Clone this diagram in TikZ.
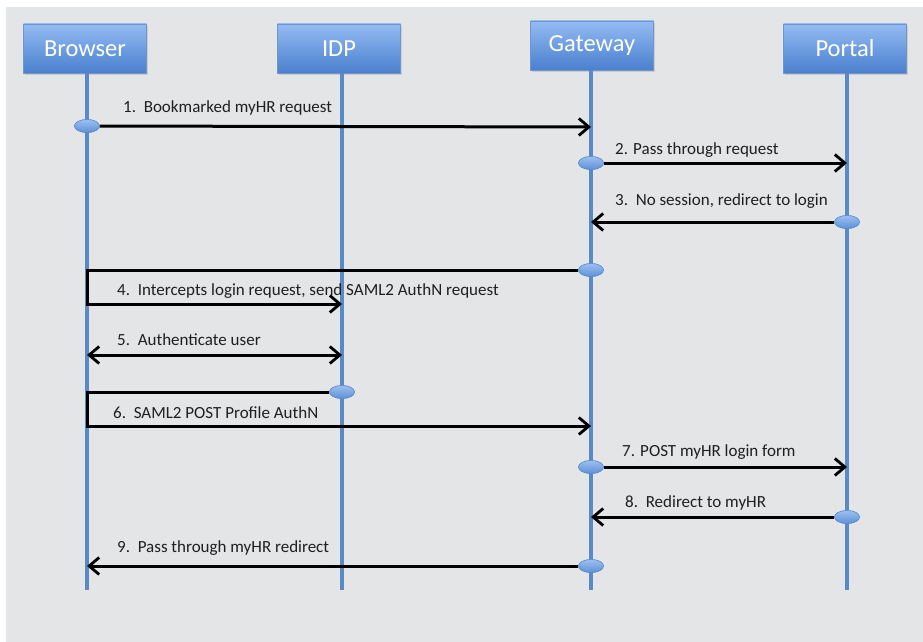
\documentclass[tikz,border=0pt]{standalone}
\usepackage{fontspec}
\setmainfont{Carlito}
\usetikzlibrary{arrows.meta,shapes.geometric,shadows}

\definecolor{panel}{HTML}{E4E5E7}
\definecolor{lifeblue}{HTML}{5A89C8}
\definecolor{boxtop}{HTML}{93BBF2}
\definecolor{boxbot}{HTML}{4A80CE}
\definecolor{boxedge}{HTML}{6F97CC}
\definecolor{dottop}{HTML}{9CC0F0}
\definecolor{dotbot}{HTML}{5E90D8}

\tikzset{
  actor/.style={rectangle, minimum width=123pt, minimum height=49pt, inner sep=0pt,
    top color=boxtop, bottom color=boxbot, draw=boxedge, line width=0.6pt,
    text=white, font=\fontsize{24.5}{28}\selectfont,
    drop shadow={opacity=0.25, shadow xshift=1.5pt, shadow yshift=-2pt}},
  lifeline/.style={draw=lifeblue, line width=3.2pt},
  dot/.style={ellipse, minimum width=25pt, minimum height=13pt, inner sep=0pt,
    top color=dottop, bottom color=dotbot, draw=lifeblue, line width=0.5pt},
  tip/.tip={Straight Barb[length=10pt,width=17pt,line width=2.8pt]},
  msg/.style={draw=black, line width=3pt, -tip},
  msgboth/.style={draw=black, line width=3pt, tip-tip},
  lbl/.style={anchor=west, inner sep=0pt, font=\fontsize{17}{20}\selectfont, text=black!88}
}

\begin{document}
\begin{tikzpicture}[x=1pt,y=-1pt]
  \useasboundingbox (0,0) rectangle (923,642);
  % backdrop
  \fill[white] (0,0) rectangle (923,642);
  \fill[panel] (6,7) rectangle (923,642);

  % participants
  \node[actor] (browser) at (85,48.5) {Browser};
  \node[actor] (idp)     at (339,48.5) {IDP};
  \node[actor] (gateway) at (592,45.5) {Gateway};
  \node[actor] (portal)  at (845,48.5) {Portal};

  % lifeline ends
  \coordinate (browserEnd) at (87,590);
  \coordinate (idpEnd)     at (342,590);
  \coordinate (gatewayEnd) at (591,590);
  \coordinate (portalEnd)  at (847,590);
  \draw[lifeline] (87,0 |- browser.south) -- (browserEnd);
  \draw[lifeline] (342,0 |- idp.south) -- (idpEnd);
  \draw[lifeline] (591,0 |- gateway.south) -- (gatewayEnd);
  \draw[lifeline] (847,0 |- portal.south) -- (portalEnd);

  % activation dots
  \node[dot] (d1) at (87,126) {};
  \node[dot] (d2) at (591,163) {};
  \node[dot] (d3) at (847,222) {};
  \node[dot] (d4) at (591,270) {};
  \node[dot] (d6) at (342,392) {};
  \node[dot] (d7) at (591,467) {};
  \node[dot] (d8) at (847,517) {};
  \node[dot] (d9) at (591,566) {};

  % message end points
  \coordinate (g1) at (591,127);
  \coordinate (p2) at (847,163);
  \coordinate (g3) at (591,222);
  \coordinate (b4a) at (87,270);
  \coordinate (b4b) at (87,304);
  \coordinate (i4) at (342,304);
  \coordinate (b5) at (87,355);
  \coordinate (i5) at (342,355);
  \coordinate (b6a) at (87,392);
  \coordinate (b6b) at (87,426);
  \coordinate (g6) at (591,426);
  \coordinate (p7) at (847,467);
  \coordinate (g8) at (591,517);
  \coordinate (b9) at (87,566);

  % messages
  \draw[msg] (d1) -- (g1);
  \draw[msg] (d2) -- (p2);
  \draw[msg] (d3) -- (g3);
  \draw[msg] (d4) -- (b4a) -- (b4b) -- (i4);
  \draw[msgboth] (b5) -- (i5);
  \draw[msg] (d6) -- (b6a) -- (b6b) -- (g6);
  \draw[msg] (d7) -- (p7);
  \draw[msg] (d8) -- (g8);
  \draw[msg] (d9) -- (b9);

  % redraw dots above the message lines
  \foreach \d in {d1,d2,d3,d4,d6,d7,d8,d9}
    \node[dot] at (\d) {};

  % labels
  \node[lbl] (t1) at (123,108) {1.\ \ Bookmarked myHR request};
  \node[lbl] (t2) at (615,150) {2. Pass through request};
  \node[lbl] (t3) at (615,201) {3.\ \ No session, redirect to login};
  \node[lbl] (t4) at (117,291) {4.\ \ Intercepts login request, send SAML2 AuthN request};
  \node[lbl] (t5) at (117,340) {5.\ \ Authenticate user};
  \node[lbl] (t6) at (113,413) {6.\ \ SAML2 POST Profile AuthN};
  \node[lbl] (t7) at (622,452) {7. POST myHR login form};
  \node[lbl] (t8) at (625,503) {8.\ \ Redirect to myHR};
  \node[lbl] (t9) at (117,548) {9.\ \ Pass through myHR redirect};
\end{tikzpicture}
\end{document}
